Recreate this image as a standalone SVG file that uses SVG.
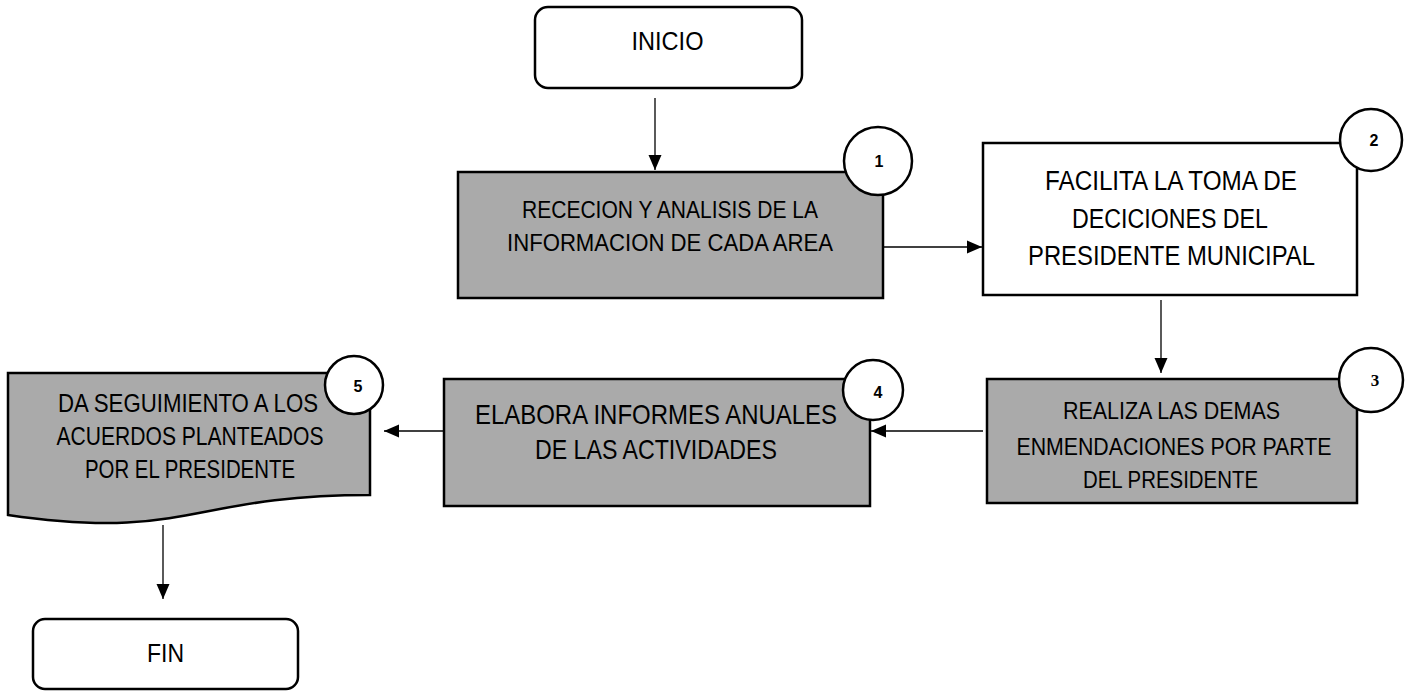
<svg xmlns="http://www.w3.org/2000/svg" width="1406" height="691" viewBox="0 0 1406 691">
<style>
.box{stroke:#000;stroke-width:2.5;}
.gray{fill:#AAAAAA;}
.white{fill:#fff;}
.t{font-family:"Liberation Sans",Arial,sans-serif;fill:#000;text-anchor:middle;}
.num{font-family:"Liberation Sans",Arial,sans-serif;font-weight:bold;font-size:16px;fill:#000;text-anchor:middle;}
.numserif{font-family:"Liberation Serif","Times New Roman",serif;font-weight:bold;font-size:17px;fill:#000;text-anchor:middle;}
.badge{fill:#fff;stroke:#000;stroke-width:2.5;}
.conn{stroke:#000;stroke-width:1.3;fill:none;marker-end:url(#arrow);}
</style>
<defs>
<marker id="arrow" markerUnits="userSpaceOnUse" markerWidth="15" markerHeight="15" viewBox="0 0 15 15" refX="15" refY="7.5" orient="auto">
<path d="M0,1 L15,7.5 L0,14 Z" fill="#000"/>
</marker>
</defs>
<g id="connectors">
<line class="conn" x1="655" y1="98" x2="655" y2="170"/>
<line class="conn" x1="883" y1="247" x2="982" y2="247"/>
<line class="conn" x1="1161" y1="300" x2="1161" y2="373"/>
<line class="conn" x1="983" y1="431" x2="871" y2="431"/>
<line class="conn" x1="444" y1="431" x2="384" y2="431"/>
<line class="conn" x1="163" y1="525" x2="163" y2="599"/>
</g>
<g id="inicio">
<rect class="box white" x="535" y="7" width="267" height="81" rx="13"/>
<text class="t" x="667.5" y="50" font-size="25" textLength="72" lengthAdjust="spacingAndGlyphs">INICIO</text>
</g>
<g id="step1">
<rect class="box gray" x="458" y="172" width="425" height="126"/>
<text class="t" x="670" y="218" font-size="24" textLength="296" lengthAdjust="spacingAndGlyphs">RECECION Y ANALISIS DE LA</text>
<text class="t" x="670" y="251" font-size="24" textLength="326" lengthAdjust="spacingAndGlyphs">INFORMACION DE CADA AREA</text>
<circle class="badge" cx="878" cy="161" r="34"/>
<text class="num" x="879" y="167">1</text>
</g>
<g id="step2">
<rect class="box white" x="983" y="143" width="374" height="152"/>
<text class="t" x="1171" y="190" font-size="27" textLength="252" lengthAdjust="spacingAndGlyphs">FACILITA LA TOMA DE</text>
<text class="t" x="1170" y="228" font-size="27" textLength="196" lengthAdjust="spacingAndGlyphs">DECICIONES DEL</text>
<text class="t" x="1171.5" y="265" font-size="27" textLength="287" lengthAdjust="spacingAndGlyphs">PRESIDENTE MUNICIPAL</text>
<circle class="badge" cx="1371" cy="140" r="31"/>
<text class="num" x="1374" y="146">2</text>
</g>
<g id="step3">
<rect class="box gray" x="987" y="379" width="370" height="124"/>
<text class="t" x="1171.5" y="419" font-size="24.5" textLength="217" lengthAdjust="spacingAndGlyphs">REALIZA LAS DEMAS</text>
<text class="t" x="1174" y="455" font-size="24.5" textLength="315" lengthAdjust="spacingAndGlyphs">ENMENDACIONES POR PARTE</text>
<text class="t" x="1170.5" y="488" font-size="24.5" textLength="175" lengthAdjust="spacingAndGlyphs">DEL PRESIDENTE</text>
<circle class="badge" cx="1371" cy="380" r="32"/>
<text class="numserif" x="1375" y="386">3</text>
</g>
<g id="step4">
<rect class="box gray" x="444" y="379" width="426" height="127"/>
<text class="t" x="656" y="424" font-size="28" textLength="362" lengthAdjust="spacingAndGlyphs">ELABORA INFORMES ANUALES</text>
<text class="t" x="656" y="459" font-size="28" textLength="242" lengthAdjust="spacingAndGlyphs">DE LAS ACTIVIDADES</text>
<circle class="badge" cx="873" cy="390" r="30"/>
<text class="num" x="878" y="398">4</text>
</g>
<g id="step5">
<path class="box gray" d="M8,373 L370,373 L370,495 C189,495 189,541.3 8,515 Z"/>
<text class="t" x="188" y="412" font-size="25" textLength="260" lengthAdjust="spacingAndGlyphs">DA SEGUIMIENTO A LOS</text>
<text class="t" x="190" y="445" font-size="25" textLength="267" lengthAdjust="spacingAndGlyphs">ACUERDOS PLANTEADOS</text>
<text class="t" x="190" y="478" font-size="25" textLength="210" lengthAdjust="spacingAndGlyphs">POR EL PRESIDENTE</text>
<circle class="badge" cx="354" cy="385" r="29"/>
<text class="num" x="358" y="392">5</text>
</g>
<g id="fin">
<rect class="box white" x="33" y="619" width="265" height="70" rx="12"/>
<text class="t" x="165.5" y="662" font-size="25" textLength="37" lengthAdjust="spacingAndGlyphs">FIN</text>
</g>
</svg>
